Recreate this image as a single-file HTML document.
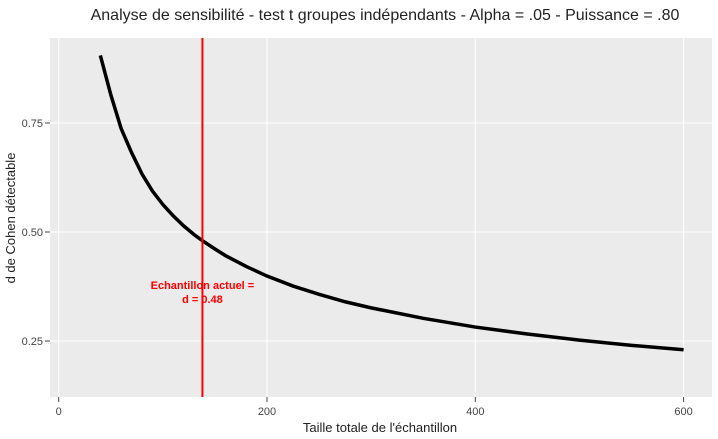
<!DOCTYPE html>
<html><head><meta charset="utf-8"><style>
body{margin:0;background:#fff;font-family:"Liberation Sans",sans-serif}
</style></head><body>
<svg id="chart" width="718" height="434" xmlns="http://www.w3.org/2000/svg">
<text x="385" y="20" text-anchor="middle" font-size="16" fill="#222">Analyse de sensibilité - test t groupes indépendants - Alpha = .05 - Puissance = .80</text>
<rect x="50" y="38" width="662" height="359" fill="#ebebeb"/>
<g id="grid"></g><g id="marks"></g><g id="axes"></g>
<text x="380" y="432" text-anchor="middle" font-size="13" fill="#222">Taille totale de l'échantillon</text>
<text transform="translate(15,218) rotate(-90)" text-anchor="middle" font-size="13" fill="#222">d de Cohen détectable</text>
</svg>
<script>
const sampleSizes=[40,50,60,70,80,90,100,110,120,130,138,150,160,180,200,225,250,275,300,350,400,450,500,550,600];
const dValues=[0.905,0.815,0.737,0.682,0.633,0.594,0.563,0.537,0.514,0.494,0.48,0.461,0.446,0.421,0.399,0.376,0.357,0.340,0.326,0.302,0.282,0.266,0.252,0.240,0.230];
const currentN=[138];
const currentD=[0.48];
const xTicks=[0,200,400,600];
const yTicks=[0.25,0.5,0.75];
const yTickLabels=["0.25","0.50","0.75"];
const ns="http://www.w3.org/2000/svg";
const X=v=>58.7+v*1.0415;
const Y=v=>123-(v-0.75)*436;
function mk(t,a,p){const e=document.createElementNS(ns,t);for(const k in a)e.setAttribute(k,a[k]);document.getElementById(p).appendChild(e);return e;}
xTicks.forEach(v=>{
 const g=mk('line',{x1:X(v),x2:X(v),y1:38,y2:397,stroke:'#fff','stroke-width':1},'grid');
 
 
 const t=mk('line',{x1:X(v),x2:X(v),y1:397,y2:402,stroke:'#444'},'axes');
 
 
 const l=mk('text',{x:X(v),y:415,'text-anchor':'middle','font-size':11,fill:'#444'},'axes');
 l.textContent=v;
 
 
});
yTicks.forEach((v,i)=>{
 const g=mk('line',{x1:50,x2:712,y1:Y(v),y2:Y(v),stroke:'#fff','stroke-width':1},'grid');
 
 
 const t=mk('line',{x1:45,x2:50,y1:Y(v),y2:Y(v),stroke:'#444'},'axes');
 
 
 const l=mk('text',{x:43,y:Y(v)+4,'text-anchor':'end','font-size':11,fill:'#444'},'axes');
 l.textContent=yTickLabels[i];
 
 
});
const path=mk('path',{d:sampleSizes.map((n,i)=>(i?'L':'M')+X(n)+','+Y(dValues[i])).join(' '),fill:'none',stroke:'#000','stroke-width':3.5},'marks');


const vl=mk('line',{x1:X(currentN[0]),x2:X(currentN[0]),y1:38,y2:397,stroke:'#f00','stroke-width':2},'marks');


const a1=mk('text',{x:X(currentN[0]),y:289,'text-anchor':'middle','font-size':11,'font-weight':'bold',fill:'#f00'},'marks');
a1.textContent='Echantillon actuel =';


const a2=mk('text',{x:X(currentN[0]),y:303,'text-anchor':'middle','font-size':11,'font-weight':'bold',fill:'#f00'},'marks');
a2.textContent='d = '+currentD[0].toFixed(2);


</script>
</body></html>
